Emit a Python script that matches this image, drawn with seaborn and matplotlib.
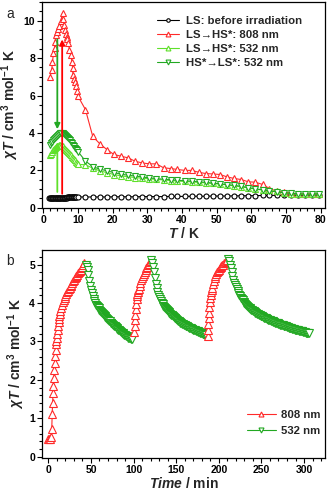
import matplotlib
matplotlib.use("Agg")
import matplotlib.pyplot as plt
from matplotlib.ticker import MultipleLocator
import seaborn as sns

# ---- panel a: chi*T vs T ----
T_ls_dense = [1.8, 2.0, 2.2, 2.4, 2.6, 2.8, 3.0, 3.2, 3.4, 3.6, 3.8, 4.0, 4.2, 4.4, 4.6,
              4.8, 5.0, 5.2, 5.4, 5.6, 5.8, 6.0, 6.2, 6.4, 6.6, 6.8, 7.0, 7.2, 7.4, 7.6,
              7.8, 8.0, 8.2, 8.4, 8.6, 8.8, 9.0, 9.2, 9.4, 9.6]
ls_dense = [0.55, 0.55, 0.55, 0.55, 0.55, 0.55, 0.55, 0.55, 0.55, 0.55, 0.55, 0.55, 0.55,
            0.55, 0.55, 0.55, 0.55, 0.55, 0.55, 0.55, 0.55, 0.55, 0.55, 0.55, 0.55, 0.55,
            0.56, 0.56, 0.56, 0.56, 0.56, 0.56, 0.56, 0.56, 0.56, 0.56, 0.56, 0.57, 0.57, 0.57]
T_sparse = [12.2, 14.3, 16.3, 18.4, 20.4, 22.4, 24.5, 26.5, 28.5, 30.6, 32.6, 34.7,
            36.7, 38.7, 40.8, 42.8, 44.8, 46.9, 48.9, 51.0, 53.0, 55.0, 57.1, 59.1,
            61.1, 63.2, 65.2, 67.3, 69.3, 71.3, 73.4, 75.4, 77.4, 79.5]
ls_sparse = [0.58, 0.58, 0.58, 0.58, 0.59, 0.59, 0.59, 0.59, 0.6, 0.6, 0.6, 0.6,
             0.61, 0.61, 0.61, 0.62, 0.62, 0.62, 0.63, 0.63, 0.63, 0.64, 0.64, 0.65,
             0.65, 0.66, 0.66, 0.67, 0.67, 0.68, 0.68, 0.69, 0.7, 0.7]

T_808_dense = [2.0, 2.5, 2.7, 3.0, 3.3, 3.45, 3.7, 4.1, 4.4, 4.7, 5.1, 5.6, 5.8, 6.0,
               6.3, 6.6, 6.8, 7.0, 7.3, 7.6, 8.0, 8.3, 8.5, 8.6, 9.0, 9.3, 9.5, 9.8, 10.1]
v_808_dense = [7.0, 7.37, 7.8, 8.26, 8.56, 8.88, 9.24, 9.4, 9.55, 9.7, 9.96, 10.42, 10.1, 9.77,
               9.5, 9.3, 9.15, 9.0, 8.8, 8.44, 8.17, 7.8, 7.46, 7.1, 6.9, 6.7, 6.5, 6.25, 5.95]
v_808_sparse = [5.25, 3.82, 3.43, 3.11, 2.85, 2.76, 2.67, 2.49, 2.4, 2.35, 2.35, 2.14,
                2.1, 2.05, 2.0, 2.0, 1.9, 1.83, 1.81, 1.78, 1.65, 1.57, 1.51, 1.39,
                1.37, 1.25, 1.03, 0.89, 0.84, 0.8, 0.75, 0.75, 0.75, 0.75]

T_532_dense = [2.0, 2.3, 2.6, 2.9, 3.2, 3.5, 3.8, 4.1, 4.4, 4.7, 5.0, 5.3, 5.6, 5.9,
               6.2, 6.5, 6.8, 7.1, 7.4, 7.7, 8.0, 8.3, 8.6, 8.9, 9.2, 9.5, 9.8, 10.2]
v_532up_dense = [2.8, 2.9, 3.0, 3.08, 3.15, 3.2, 3.25, 3.3, 3.33, 3.35, 3.35, 3.33, 3.28, 3.22,
                 3.16, 3.1, 3.05, 3.0, 2.93, 2.86, 2.8, 2.73, 2.66, 2.6, 2.53, 2.47, 2.4, 2.32]
v_532up_sparse = [2.3, 2.12, 1.98, 1.88, 1.78, 1.71, 1.66, 1.62, 1.58, 1.55, 1.52, 1.49,
                  1.46, 1.43, 1.41, 1.39, 1.36, 1.33, 1.3, 1.27, 1.22, 1.17, 1.12, 1.06,
                  1.0, 0.95, 0.93, 0.88, 0.8, 0.76, 0.73, 0.72, 0.72, 0.73]
v_532dn_dense = [3.38, 3.45, 3.52, 3.6, 3.67, 3.74, 3.8, 3.86, 3.91, 3.95, 3.98, 4.0, 3.98, 3.95,
                 3.9, 3.85, 3.8, 3.74, 3.68, 3.6, 3.53, 3.45, 3.38, 3.3, 3.22, 3.15, 3.07, 2.97]
v_532dn_sparse = [2.5, 2.2, 2.07, 1.98, 1.88, 1.8, 1.74, 1.7, 1.65, 1.6, 1.56, 1.53,
                  1.5, 1.47, 1.45, 1.42, 1.39, 1.36, 1.32, 1.28, 1.24, 1.2, 1.15, 1.08,
                  1.02, 0.96, 0.9, 0.85, 0.8, 0.77, 0.75, 0.73, 0.73, 0.75]

# irradiation arrows (T, start, end)
arrow_808 = (5.5, 0.75, 9.0)
arrow_532_off = (4.1, 9.0, 4.2)
arrow_532_on = (4.1, 0.85, 3.5)

# ---- panel b: chi*T vs time ----
t_808_1 = [0, 1, 2, 3, 4, 4.5, 5, 5.5, 6, 6.5, 7, 7.5, 8, 8.5, 9, 9.5, 10, 10.5, 11, 11.5,
           12, 12.5, 13, 13.5, 14, 15, 16, 17, 18, 19, 20, 21, 22, 23, 24, 25, 26, 27, 28,
           29, 30, 31, 32, 33, 34, 35, 36, 37, 38, 39, 40, 41, 42]
v_808_1 = [0.45, 0.45, 0.47, 0.5, 0.72, 1.1, 1.4, 1.65, 1.85, 2.05, 2.25, 2.45, 2.62, 2.78,
           2.92, 3.01, 3.1, 3.2, 3.3, 3.4, 3.5, 3.58, 3.65, 3.72, 3.78, 3.88, 3.95, 4.02,
           4.08, 4.13, 4.18, 4.23, 4.28, 4.32, 4.36, 4.4, 4.44, 4.48, 4.52, 4.56, 4.6, 4.64,
           4.68, 4.71, 4.74, 4.77, 4.8, 4.83, 4.86, 4.9, 4.95, 5.0, 5.05]
t_532_1 = [44, 45, 46, 47, 48, 49, 50, 51, 52, 53, 54, 55, 56, 57, 58, 59, 60, 61, 62, 63,
           64, 65, 66, 67, 68, 69, 70, 71, 72, 73, 74, 75, 76, 77, 78, 79, 80, 81, 82, 83,
           84, 85, 86, 87, 88, 89, 90, 91, 92, 93, 94, 95, 96, 97, 98]
v_532_1 = [5.0, 4.95, 4.85, 4.72, 4.58, 4.45, 4.35, 4.27, 4.18, 4.11, 4.05, 4.0, 3.96, 3.92,
           3.89, 3.86, 3.83, 3.8, 3.77, 3.74, 3.71, 3.68, 3.66, 3.63, 3.61, 3.58, 3.56, 3.54,
           3.52, 3.49, 3.47, 3.45, 3.43, 3.41, 3.39, 3.37, 3.35, 3.33, 3.31, 3.29, 3.27, 3.25,
           3.23, 3.21, 3.19, 3.17, 3.16, 3.14, 3.13, 3.11, 3.1, 3.09, 3.08, 3.07, 3.06]
t_808_2 = [101, 101.4, 101.8, 102.2, 102.6, 103, 103.5, 104, 104.5, 105, 105.5, 106, 107,
           108, 109, 110, 111, 112, 113, 114, 115, 116, 117, 118, 119, 120]
v_808_2 = [3.25, 3.4, 3.55, 3.7, 3.85, 3.98, 4.1, 4.18, 4.23, 4.28, 4.33, 4.37, 4.45, 4.52,
           4.59, 4.65, 4.71, 4.76, 4.81, 4.86, 4.9, 4.94, 4.98, 5.02, 5.06, 5.1]
t_532_2 = [121, 122, 123, 124, 125, 126, 127, 128, 129, 130, 131, 132, 133, 134, 135, 136,
           137, 138, 139, 140, 141, 142, 143, 144, 145, 146, 147, 148, 149, 150, 151, 152,
           153, 154, 155, 156, 157, 158, 159, 160, 161, 162, 163, 164, 165, 166, 167, 168,
           169, 170, 171, 172, 173, 174, 175, 176, 177, 178, 179, 180, 181, 182, 183, 184, 185]
v_532_2 = [5.12, 5.05, 4.95, 4.8, 4.65, 4.5, 4.38, 4.28, 4.21, 4.15, 4.1, 4.05, 4.01, 3.97,
           3.93, 3.9, 3.87, 3.84, 3.82, 3.79, 3.76, 3.74, 3.72, 3.7, 3.68, 3.66, 3.64, 3.62,
           3.6, 3.58, 3.56, 3.54, 3.53, 3.51, 3.49, 3.48, 3.46, 3.45, 3.44, 3.42, 3.41, 3.4,
           3.39, 3.37, 3.36, 3.35, 3.34, 3.33, 3.32, 3.31, 3.3, 3.29, 3.28, 3.27, 3.26, 3.25,
           3.24, 3.23, 3.22, 3.21, 3.2, 3.19, 3.18, 3.17, 3.16]
t_808_3 = [187, 187.3, 187.6, 188, 188.5, 189, 189.5, 190, 190.5, 191, 191.5, 192, 193, 194,
           195, 196, 197, 198, 199, 200, 201, 202, 203, 204, 205, 206, 207, 208, 209, 210]
v_808_3 = [3.15, 3.3, 3.45, 3.6, 3.75, 3.9, 4.02, 4.13, 4.21, 4.28, 4.34, 4.4, 4.5, 4.58,
           4.65, 4.71, 4.76, 4.8, 4.84, 4.87, 4.9, 4.93, 4.96, 4.98, 5.0, 5.03, 5.05, 5.08,
           5.1, 5.12]
t_532_3 = [211, 212, 213, 214, 215, 216, 217, 218, 219, 220, 221, 222, 223, 224, 225, 226,
           227, 228, 229, 230, 231, 232, 233, 234, 235, 236, 237, 238, 239, 240, 241, 242,
           243, 244, 245, 246, 247, 248, 249, 250, 251, 252, 253, 254, 255, 256, 257, 258,
           259, 260, 261, 262, 263, 264, 265, 266, 267, 268, 269, 270, 271, 272, 273, 274,
           275, 276, 277, 278, 279, 280, 281, 282, 283, 284, 285, 286, 287, 288, 289, 290,
           291, 292, 293, 294, 295, 296, 297, 298, 299, 300, 301, 302, 303, 304, 305, 306]
v_532_3 = [5.15, 5.1, 5.0, 4.9, 4.8, 4.7, 4.6, 4.52, 4.47, 4.42, 4.37, 4.32, 4.27, 4.22,
           4.18, 4.14, 4.1, 4.07, 4.03, 4.0, 3.97, 3.95, 3.92, 3.9, 3.88, 3.86, 3.84, 3.83,
           3.81, 3.8, 3.78, 3.76, 3.75, 3.73, 3.72, 3.71, 3.7, 3.68, 3.67, 3.66, 3.65, 3.64,
           3.62, 3.61, 3.6, 3.59, 3.58, 3.57, 3.56, 3.55, 3.54, 3.53, 3.52, 3.51, 3.5, 3.49,
           3.48, 3.48, 3.47, 3.46, 3.45, 3.44, 3.43, 3.43, 3.42, 3.41, 3.4, 3.39, 3.39, 3.38,
           3.37, 3.36, 3.36, 3.35, 3.34, 3.33, 3.33, 3.32, 3.31, 3.3, 3.3, 3.29, 3.29, 3.28,
           3.27, 3.27, 3.26, 3.26, 3.25, 3.24, 3.24, 3.23, 3.23, 3.22, 3.22, 3.22]

RED = "#ff2a2a"
LGREEN = "#5fe02a"
DGREEN = "#22a822"

sns.set_style("ticks")
plt.rcParams["font.family"] = ["Liberation Sans", "DejaVu Sans"]
plt.rcParams["font.weight"] = "bold"
plt.rcParams["axes.labelweight"] = "bold"
plt.rcParams["mathtext.fontset"] = "custom"
plt.rcParams["mathtext.rm"] = "Liberation Sans:bold"
plt.rcParams["mathtext.bf"] = "Liberation Sans:bold"
plt.rcParams["mathtext.it"] = "Liberation Sans:bold:italic"

fig = plt.figure(figsize=(3.31, 4.96), dpi=100)
ax1 = fig.add_axes([0.127, 0.581, 0.855, 0.415])
ax2 = fig.add_axes([0.127, 0.077, 0.855, 0.419])


def series(ax, x, y, color, marker, ms, label):
    sns.lineplot(x=x, y=y, ax=ax, color=color, marker=marker, markersize=ms,
                 markerfacecolor="white", markeredgecolor=color, markeredgewidth=0.8,
                 linewidth=0.8, sort=False, estimator=None, label=label)


def style_axes(ax):
    for s in ax.spines.values():
        s.set_linewidth(0.9)
        s.set_color("black")
    ax.tick_params(which="both", direction="out", top=False, right=False,
                   width=0.8, labelsize=7.5, pad=1.5, colors="black")
    ax.tick_params(which="major", length=3.5)
    ax.tick_params(which="minor", length=2)
    for lab in ax.get_xticklabels() + ax.get_yticklabels():
        lab.set_fontweight("bold")


# panel a
series(ax1, T_ls_dense + [10.2] + T_sparse, ls_dense + [0.58] + ls_sparse,
       "black", "o", 3.6, "LS: before irradiation")
series(ax1, T_808_dense + T_sparse, v_808_dense + v_808_sparse,
       RED, "^", 5, "LS\u2192HS*: 808 nm")
series(ax1, T_532_dense + T_sparse, v_532up_dense + v_532up_sparse,
       LGREEN, "^", 5, "LS\u2192HS*: 532 nm")
series(ax1, T_532_dense + T_sparse, v_532dn_dense + v_532dn_sparse,
       DGREEN, "v", 5, "HS*\u2192LS*: 532 nm")

for (xa, y0, y1), c in [(arrow_808, "#ff0000"), (arrow_532_off, DGREEN), (arrow_532_on, LGREEN)]:
    ax1.annotate("", xy=(xa, y1), xytext=(xa, y0),
                 arrowprops=dict(arrowstyle="-|>", color=c, lw=1.3,
                                 mutation_scale=8, shrinkA=0, shrinkB=0))

ax1.set_xlim(-0.3, 81.2)
ax1.set_ylim(0, 11)
ax1.xaxis.set_major_locator(MultipleLocator(10))
ax1.xaxis.set_minor_locator(MultipleLocator(2))
ax1.yaxis.set_major_locator(MultipleLocator(2))
ax1.yaxis.set_minor_locator(MultipleLocator(0.5))
style_axes(ax1)
ax1.set_xlabel(r"$T$ / K", fontsize=10, labelpad=1)
ax1.set_ylabel(r"$\chi T$ / cm$^{3}$ mol$^{-1}$ K", fontsize=10, labelpad=2)
ax1.legend(loc="upper left", bbox_to_anchor=(0.405, 0.93), frameon=False, fontsize=8.2,
           handlelength=2.0, handletextpad=0.6, labelspacing=0.33, markerscale=0.7,
           borderaxespad=0, borderpad=0)
fig.text(0.02, 0.985, "a", fontsize=10, fontweight="normal", va="top")

# panel b
series(ax2, t_808_1, v_808_1, RED, "^", 6, "808 nm")
series(ax2, t_532_1, v_532_1, DGREEN, "v", 6, "532 nm")
series(ax2, t_808_2, v_808_2, RED, "^", 6, None)
series(ax2, t_532_2, v_532_2, DGREEN, "v", 6, None)
series(ax2, t_808_3, v_808_3, RED, "^", 6, None)
series(ax2, t_532_3, v_532_3, DGREEN, "v", 6, None)

ax2.set_xlim(-7.4, 324.6)
ax2.set_ylim(-0.03, 5.38)
ax2.xaxis.set_major_locator(MultipleLocator(50))
ax2.xaxis.set_minor_locator(MultipleLocator(10))
ax2.yaxis.set_major_locator(MultipleLocator(1))
ax2.yaxis.set_minor_locator(MultipleLocator(0.2))
style_axes(ax2)
ax2.set_xlabel(r"$Time$ / min", fontsize=10, labelpad=1)
ax2.set_ylabel(r"$\chi T$ / cm$^{3}$ mol$^{-1}$ K", fontsize=10, labelpad=2)
ax2.legend(loc="upper left", bbox_to_anchor=(0.723, 0.228), frameon=False, fontsize=8.2,
           handlelength=2.6, handletextpad=0.4, labelspacing=0.5, markerscale=0.6,
           borderaxespad=0, borderpad=0)
fig.text(0.02, 0.487, "b", fontsize=10, fontweight="normal", va="top")

fig.savefig("out.png", dpi=100)
